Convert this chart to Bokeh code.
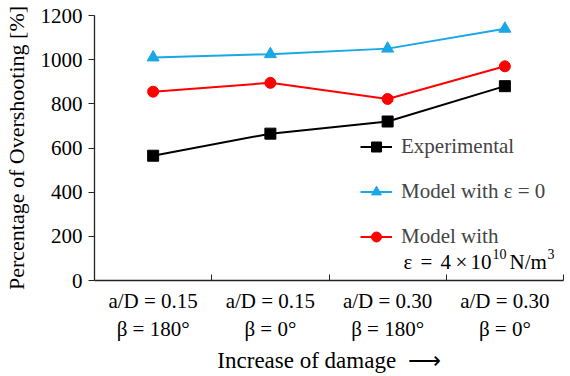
from bokeh.plotting import figure
from bokeh.models import Range1d, FixedTicker, Legend, LegendItem, Label
from bokeh.embed import file_html
from bokeh.resources import INLINE

# Damage cases along the x axis: crack depth ratio and crack angle
case_ratio = ["a/D = 0.15", "a/D = 0.15", "a/D = 0.30", "a/D = 0.30"]
case_angle = ["β = 180°", "β = 0°", "β = 180°", "β = 0°"]
# Percentage of overshooting for each case
experimental = [565, 665, 720, 880]
model_eps0 = [1010, 1025, 1050, 1140]
model_eps4e10 = [855, 895, 822, 970]
y_ticks = [0, 200, 400, 600, 800, 1000, 1200]

FONT = "Liberation Serif"
BLUE = "#1aa7e6"
RED = "#ff0000"
AXIS = "#222222"

n = len(case_ratio)
x = [i + 0.5 for i in range(n)]

p = figure(
    width=570, height=376,
    x_range=Range1d(0, n), y_range=Range1d(0, 1200),
    output_backend="svg", toolbar_location=None,
    min_border_left=93, min_border_right=7, min_border_top=15, min_border_bottom=89,
)
p.outline_line_color = None
p.xgrid.visible = False
p.ygrid.visible = False
p.background_fill_color = "white"
p.border_fill_color = "white"

xa = p.xaxis[0]
ya = p.yaxis[0]

# y axis
ya.ticker = FixedTicker(ticks=y_ticks, minor_ticks=[])
ya.major_tick_in = 0
ya.major_tick_out = 6
ya.minor_tick_line_color = None
ya.major_label_standoff = 6
ya.axis_label = "Percentage of Overshooting [%]"
ya.axis_label_standoff = 9

# x axis: two-line case labels at the centres, small inner ticks at the boundaries
xa.ticker = FixedTicker(ticks=x, minor_ticks=[float(i) for i in range(1, n + 1)])
xa.major_label_overrides = {xi: f"{r}\n{a}" for xi, r, a in zip(x, case_ratio, case_angle)}
xa.major_tick_in = 0
xa.major_tick_out = 0
xa.minor_tick_in = 6
xa.minor_tick_out = 0
xa.major_label_standoff = 8
xa.axis_label = "Increase of damage\u00a0\u00a0⟶"
xa.axis_label_standoff = 4

for ax in (xa, ya):
    ax.axis_line_color = AXIS
    ax.axis_line_width = 1.3
    ax.major_tick_line_color = AXIS
    ax.major_label_text_font = FONT
    ax.major_label_text_font_size = "21px"
    ax.major_label_text_color = "black"
    ax.axis_label_text_font = FONT
    ax.axis_label_text_font_style = "normal"
    ax.axis_label_text_color = "black"
xa.minor_tick_line_color = AXIS
ya.axis_label_text_font_size = "22px"
xa.axis_label_text_font_size = "23px"

# series
r_exp_l = p.line(x, experimental, line_color="black", line_width=2)
r_exp_m = p.scatter(x, experimental, marker="square", size=11, fill_color="black", line_color="black")
r_b_l = p.line(x, model_eps0, line_color=BLUE, line_width=2)
r_b_m = p.scatter(x, model_eps0, marker="triangle", size=12, fill_color=BLUE, line_color=BLUE)
r_r_l = p.line(x, model_eps4e10, line_color=RED, line_width=2)
r_r_m = p.scatter(x, model_eps4e10, marker="circle", size=11, fill_color=RED, line_color=RED)

legend = Legend(
    items=[
        LegendItem(label="Experimental", renderers=[r_exp_l, r_exp_m]),
        LegendItem(label="Model with ε = 0", renderers=[r_b_l, r_b_m]),
        LegendItem(label="Model with", renderers=[r_r_l, r_r_m]),
    ],
    location=(266, 31),
    padding=0,
    margin=0,
    background_fill_alpha=0,
    border_line_color=None,
    label_text_font=FONT,
    label_text_font_size="21px",
    label_height=25,
    glyph_height=25,
    glyph_width=32,
    spacing=20,
    label_standoff=9,
)
p.add_layout(legend)

# second line of the last legend entry, with raised exponents
LX, LY = 309, 19
for txt, dx, dy, size in [
    ("ε", 0, 0, "21px"),
    ("=", 17, 0, "21px"),
    ("4", 37, 0, "21px"),
    ("×", 52, 0, "21px"),
    ("10", 67, 0, "21px"),
    ("10", 89, 8, "14px"),
    ("N/m", 106, 0, "21px"),
    ("3", 144, 8, "14px"),
]:
    p.add_layout(Label(
        x=LX, y=LY, x_units="screen", y_units="screen",
        x_offset=dx, y_offset=dy, text=txt, text_align="left",
        text_font=FONT, text_font_size=size, text_color="black", text_baseline="middle",
    ))

open("out.html", "w").write(file_html(p, INLINE))
